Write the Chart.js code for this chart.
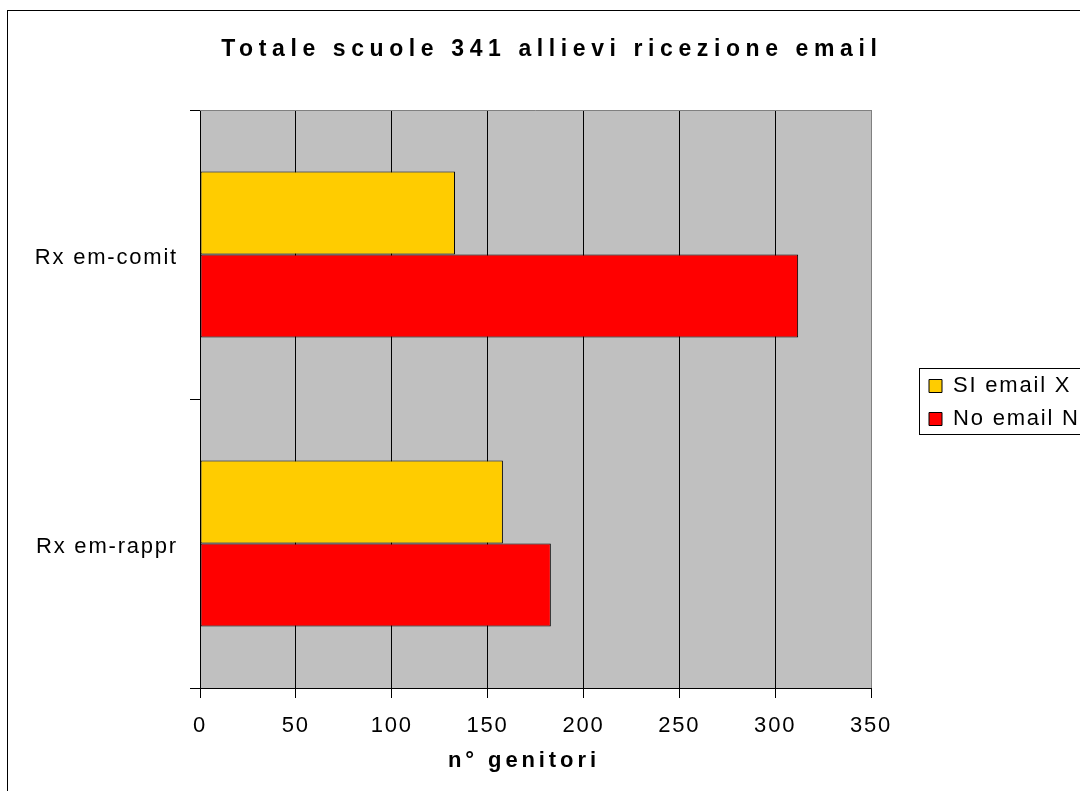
<!DOCTYPE html>
<html>
<head>
<meta charset="utf-8">
<script src="https://cdn.jsdelivr.net/npm/chart.js@4"></script>
<style>
html, body { margin: 0; padding: 0; background: #fff; overflow: hidden; width: 1080px; height: 791px; }
#frame { position: absolute; left: 7px; top: 10px; width: 1082px; height: 900px; border: 1px solid #000; box-sizing: border-box; }
#c { position: absolute; left: 0; top: 0; }
</style>
</head>
<body>
<div id="frame"></div>
<canvas id="c" width="1098" height="791"></canvas>
<script>
// ---- data ----
const chartTitle = 'Totale scuole 341 allievi ricezione email';
const axisTitle = 'n° genitori';
const categories = ['Rx em-comit', 'Rx em-rappr'];
const seriesNames = ['SI email X', 'No email N'];
const siEmail = [133, 158];
const noEmail = [312, 183];
const xTicks = [0, 50, 100, 150, 200, 250, 300, 350];

// ---- styling ----
const FONT = "'Liberation Sans', Arial, Helvetica, sans-serif";
const AREA = { left: 200, right: 871, top: 110, bottom: 688 };
const LEGEND_LEFT = 918;
const LEGEND_DY = 7;
const BASE_SPACING = 1.8;
const TITLE_SPACING = 5.6;
const AXIS_TITLE_SPACING = 3.9;
const TITLE_CENTER = 549;
const AXIS_TITLE_CENTER = 522;

Chart.defaults.font.family = FONT;
Chart.defaults.color = '#000';

function withSpacing(obj, method, spacing, centerFn) {
  if (!obj || obj['_ls_' + method]) return;
  const orig = obj[method];
  obj[method] = function (...args) {
    const ctx = this.ctx;
    const prev = ctx.letterSpacing;
    ctx.save();
    ctx.letterSpacing = spacing + 'px';
    const dx = centerFn(this) + spacing / 2;
    ctx.translate(dx, 0);
    const r = orig.apply(this, args);
    ctx.restore();
    ctx.letterSpacing = prev;
    return r;
  };
  obj['_ls_' + method] = true;
}

const excelLook = {
  id: 'excelLook',
  beforeLayout(chart) { chart.ctx.letterSpacing = BASE_SPACING + 'px'; },
  afterLayout(chart) {
    const lg = chart.legend;
    if (lg) {
      const dx = LEGEND_LEFT - lg.left;
      lg.left += dx; lg.right += dx;
      lg.top += LEGEND_DY; lg.bottom += LEGEND_DY;
    }
  },
  beforeDraw(chart) {
    const ctx = chart.ctx;
    ctx.letterSpacing = BASE_SPACING + 'px';
    withSpacing(chart.titleBlock, 'draw', TITLE_SPACING, b => TITLE_CENTER - (b.left + b.right) / 2);
    withSpacing(chart.scales.x, 'drawTitle', AXIS_TITLE_SPACING, s => AXIS_TITLE_CENTER - (s.left + s.right) / 2);
    const a = chart.chartArea;
    ctx.save();
    ctx.fillStyle = '#C0C0C0';
    ctx.fillRect(a.left, a.top, a.right - a.left, a.bottom - a.top);
    ctx.restore();
  },
  beforeDatasetsDraw(chart) {
    const ctx = chart.ctx, a = chart.chartArea;
    ctx.save();
    ctx.strokeStyle = '#808080';
    ctx.lineWidth = 1;
    ctx.beginPath();
    ctx.moveTo(a.left, Math.round(a.top) + 0.5);
    ctx.lineTo(a.right, Math.round(a.top) + 0.5);
    ctx.stroke();
    ctx.restore();
  },
  afterDraw(chart) {
    const lg = chart.legend;
    const hb = lg && lg.legendHitBoxes;
    if (!hb || !hb.length) return;
    const first = hb[0], last = hb[hb.length - 1];
    const x = Math.round(first.left - 10) + 0.5;
    const y = Math.round(first.top - 6.7) + 0.5;
    const yb = Math.round(last.top + last.height + 3.7) + 0.5;
    const ctx = chart.ctx;
    ctx.save();
    ctx.strokeStyle = '#000';
    ctx.lineWidth = 1;
    ctx.strokeRect(x, y, 175, yb - y);
    ctx.restore();
  }
};

const chart = new Chart(document.getElementById('c'), {
  type: 'bar',
  data: {
    labels: categories,
    datasets: [
      { label: seriesNames[0], data: siEmail, backgroundColor: '#FFCC00', borderColor: '#000', borderWidth: 1, borderSkipped: false },
      { label: seriesNames[1], data: noEmail, backgroundColor: '#FF0000', borderColor: '#000', borderWidth: 1, borderSkipped: false }
    ]
  },
  options: {
    indexAxis: 'y',
    responsive: false,
    animation: false,
    devicePixelRatio: 1,
    categoryPercentage: 166 / 289,
    barPercentage: 1,
    layout: { padding: { top: 0, left: 0, bottom: 0, right: 0 } },
    plugins: {
      tooltip: { enabled: false },
      title: {
        display: true,
        text: chartTitle,
        color: '#000',
        font: { size: 23, weight: 'bold', family: FONT, lineHeight: 1.2 },
        padding: { top: 36, bottom: 46.4 }
      },
      legend: {
        display: true,
        position: 'right',
        align: 'center',
        labels: {
          color: '#000',
          font: { size: 22, family: FONT },
          boxWidth: 13,
          boxHeight: 13,
          padding: 11
        }
      }
    },
    scales: {
      x: {
        type: 'linear',
        position: 'bottom',
        min: xTicks[0],
        max: xTicks[xTicks.length - 1],
        afterFit: s => { s.height = 103; },
        ticks: {
          stepSize: xTicks[1] - xTicks[0],
          color: '#000',
          padding: 15,
          font: { size: 22, family: FONT },
          maxRotation: 0
        },
        grid: {
          display: true,
          drawOnChartArea: true,
          drawTicks: true,
          tickLength: 10,
          lineWidth: 1,
          color: c => (c.tick && c.tick.value === xTicks[xTicks.length - 1]) ? '#808080' : '#000',
          tickColor: '#000'
        },
        border: { display: true, color: '#000', width: 1 },
        title: {
          display: true,
          text: axisTitle,
          color: '#000',
          font: { size: 22, weight: 'bold', family: FONT, lineHeight: 1.2 },
          padding: { top: 0, bottom: 17 }
        }
      },
      y: {
        type: 'category',
        afterFit: s => { s.width = 200; },
        ticks: {
          color: '#000',
          padding: 12,
          labelOffset: 3,
          font: { size: 22, family: FONT }
        },
        grid: {
          display: true,
          offset: true,
          drawOnChartArea: false,
          drawTicks: true,
          tickLength: 10,
          color: '#000',
          lineWidth: 1
        },
        border: { display: true, color: '#000', width: 1 }
      }
    }
  },
  plugins: [excelLook]
});

// align the plot's right edge with the reference
const diff = chart.chartArea.right - AREA.right;
if (Math.abs(diff) > 0.1) {
  chart.options.layout.padding = { top: 0, left: 0, bottom: 0, right: diff };
  chart.update();
}
</script>
</body>
</html>
